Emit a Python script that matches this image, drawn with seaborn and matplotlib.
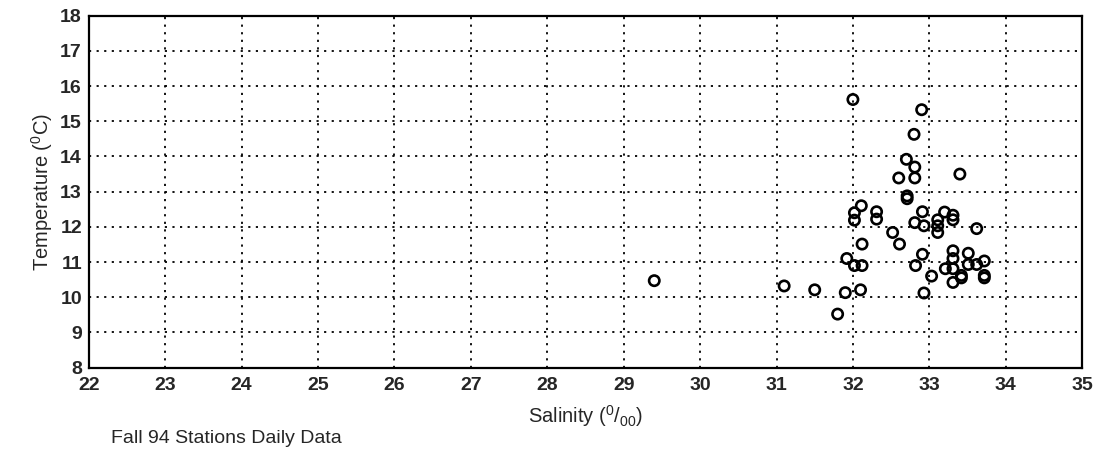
import pandas as pd
import numpy as np
import seaborn as sns
import matplotlib.pyplot as plt

# salinity (0/00) and temperature (C)
salinity = [29.40, 31.10, 31.50, 31.90, 31.80, 32.10, 31.92, 32.02, 32.12,
            32.12, 32.02, 32.02, 32.11, 32.31, 32.31, 32.52, 32.61,
            32.00, 32.90, 32.80, 32.70, 32.81, 32.60, 32.81, 33.40,
            32.71, 32.71, 32.91, 32.81, 32.93, 32.91, 32.82, 32.93, 33.03,
            33.11, 33.11, 33.11, 33.20, 33.31, 33.31, 33.62,
            33.31, 33.31, 33.31, 33.31, 33.21, 33.42, 33.42,
            33.51, 33.51, 33.62, 33.72, 33.72, 33.72]
temperature = [10.47, 10.32, 10.21, 10.13, 9.52, 10.21, 11.10, 10.90, 10.90,
               11.51, 12.19, 12.40, 12.60, 12.43, 12.22, 11.84, 11.51,
               15.62, 15.33, 14.63, 13.92, 13.70, 13.39, 13.39, 13.50,
               12.88, 12.80, 12.43, 12.12, 12.03, 11.22, 10.90, 10.12, 10.60,
               12.20, 12.03, 11.84, 12.42, 12.33, 12.20, 11.95,
               11.32, 11.10, 10.81, 10.42, 10.81, 10.62, 10.55,
               11.25, 10.93, 10.93, 11.03, 10.62, 10.55]

x_ticks = list(range(22, 36))
y_ticks = list(range(8, 19))

data = pd.DataFrame({'Salinity': salinity, 'Temperature': temperature})

sns.set_style('white')
plt.rcParams['font.family'] = ['Liberation Sans', 'DejaVu Sans']
plt.rcParams['mathtext.default'] = 'regular'

fig = plt.figure(figsize=(11.11, 4.51), dpi=100)
ax = fig.add_axes([0.080, 0.185, 0.894, 0.780])

sns.scatterplot(data=data, x='Salinity', y='Temperature', ax=ax,
                marker='o', s=55, facecolor='none', edgecolor='black',
                linewidth=1.9, zorder=3)

ax.set_xlim(22, 35)
ax.set_ylim(8, 18)
ax.set_xticks(x_ticks)
ax.set_yticks(y_ticks)
ax.grid(True, color='black', linestyle=(0, (1.2, 3)), linewidth=1.3)
for s in ax.spines.values():
    s.set_color('black')
    s.set_linewidth(1.6)
ax.tick_params(labelsize=14, length=0)
ax.tick_params(axis='x', pad=7)
ax.tick_params(axis='y', pad=5)
for lab in ax.get_xticklabels() + ax.get_yticklabels():
    lab.set_fontweight('bold')

ax.set_xlabel('Salinity ($^0/_{00}$)', fontsize=14.5, labelpad=6)
ax.set_ylabel('Temperature ($^0$C)', fontsize=14.5, labelpad=4)
fig.text(0.100, 0.018, 'Fall 94 Stations Daily Data', fontsize=14)

fig.savefig('out.png', dpi=100)
